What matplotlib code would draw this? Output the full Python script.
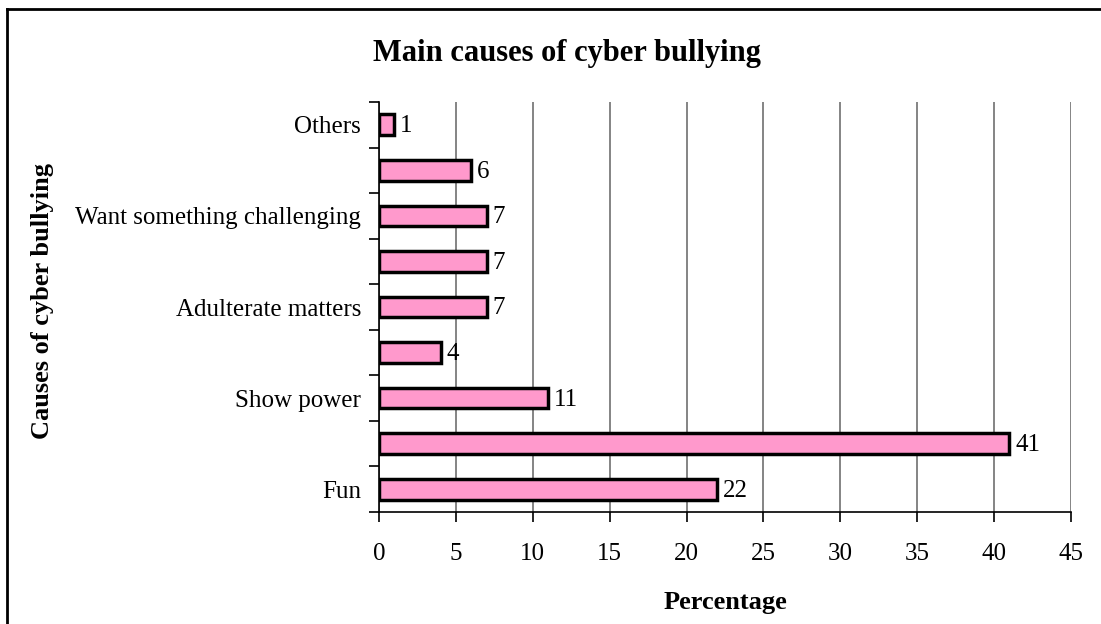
import matplotlib.pyplot as plt
from matplotlib.lines import Line2D

# data (bottom to top, as drawn); unlabelled categories are hidden in the source
causes = ['Fun', '', 'Show power', '', 'Adulterate matters', '',
          'Want something challenging', '', 'Others']
percent = [22, 41, 11, 4, 7, 7, 7, 6, 1]
x_ticks = [0, 5, 10, 15, 20, 25, 30, 35, 40, 45]

plt.rcParams['font.family'] = ['Liberation Serif', 'DejaVu Serif']

fig = plt.figure(figsize=(11.01, 6.24), dpi=100)
ax = fig.add_axes([379 / 1101, 1 - 512 / 624, 692 / 1101, 410 / 624])

pos = list(range(len(causes)))
bars = ax.barh(pos, percent, height=0.455, color='#FF99CC',
               edgecolor='black', linewidth=2.5, zorder=3)

# value labels
for p, v in zip(pos, percent):
    ax.annotate(str(v), (v, p), xytext=(4, -1), textcoords='offset points',
                va='center', ha='left', fontsize=18)

ax.set_xlim(0, 45)
ax.set_ylim(-0.5, len(causes) - 0.5)
ax.set_xticks(x_ticks)
ax.set_xticklabels([str(t) for t in x_ticks], fontsize=18)
ax.grid(axis='x', color='#707070', linewidth=1.2, zorder=0)

# category ticks between bars, labels at bar centres
ax.set_yticks([i - 0.5 for i in range(len(causes) + 1)])
ax.set_yticklabels([])
ax.set_yticks(pos, minor=True)
ax.set_yticklabels(causes, minor=True, fontsize=18)
ax.tick_params(axis='y', which='major', length=7, width=1.2, direction='out')
ax.tick_params(axis='y', which='minor', length=0, pad=13)
ax.tick_params(axis='x', length=7, width=1.2, direction='out', pad=15)

for s in ['top', 'right']:
    ax.spines[s].set_visible(False)
ax.spines['left'].set_linewidth(1.2)
ax.spines['bottom'].set_linewidth(1.2)

fig.text(725 / 1101, 1 - 603 / 624, 'Percentage', ha='center', va='center',
         fontsize=19, fontweight='bold')
fig.text(43 / 1101, 1 - 301 / 624, 'Causes of cyber bullying', rotation=90,
         ha='center', va='center', fontsize=19, fontweight='bold')
fig.text(567 / 1101, 1 - 54 / 624, 'Main causes of cyber bullying',
         ha='center', va='center', fontsize=22, fontweight='bold')

# chart border (left and top visible)
fig.add_artist(Line2D([7 / 1101, 7 / 1101], [0, 1 - 9 / 624], color='black',
                      linewidth=2, transform=fig.transFigure))
fig.add_artist(Line2D([7 / 1101, 1], [1 - 9 / 624, 1 - 9 / 624], color='black',
                      linewidth=2, transform=fig.transFigure))

fig.savefig('out.png', dpi=100)
